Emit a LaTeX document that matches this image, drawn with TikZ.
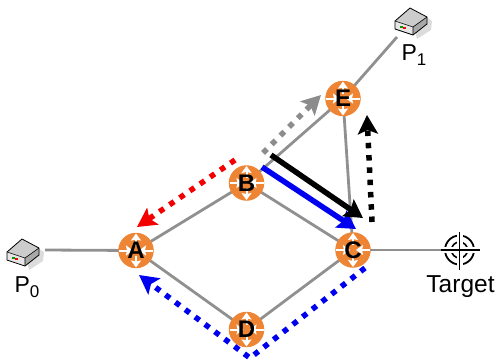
\documentclass[tikz,border=0pt]{standalone}
\usepackage{fontspec}
\setmainfont{Liberation Sans}
\usetikzlibrary{arrows.meta,backgrounds}
\definecolor{routerorange}{HTML}{EE8535}
\definecolor{linkgrey}{HTML}{909090}
\definecolor{flowgrey}{HTML}{8C8C8C}
\definecolor{flowblue}{HTML}{0000F0}
\definecolor{flowred}{HTML}{F50000}
\definecolor{boxtop}{HTML}{CCCCCC}
\definecolor{boxleft}{HTML}{E6E6E6}
\definecolor{boxright}{HTML}{A8A8A8}
\definecolor{boxshadow}{HTML}{DCDCDC}
\newcommand{\sublabel}[2]{#1\raisebox{-5pt}{\fontsize{17}{17}\selectfont #2}}
\newcommand{\hostbox}[1]{%
 \begin{scope}[shift={(#1)}]
  \fill[boxshadow] (3,-2) -- (14,-7) -- (22,-2) -- (21,7) -- (7,16) -- cycle;
  \fill[boxleft] (-15,-2) -- (3,4) -- (3,12) -- (-15,6) -- cycle;
  \fill[boxright] (3,4) -- (17,-6) -- (17,1) -- (3,12) -- cycle;
  \fill[boxtop] (-15,-2) -- (0,-15) -- (17,-6) -- (3,4) -- cycle;
  \draw[line width=.8pt,line join=round] (-15,-2) -- (0,-15) -- (17,-6) -- (17,1) -- (3,12) -- (-15,6) -- cycle;
  \draw[line width=.6pt] (-15,-2) -- (3,4) -- (17,-6) (3,4) -- (3,12);
  \fill[green!60!black] (-10,3) rectangle (-7,5);
  \fill[red] (-7,4) rectangle (-4,6);
 \end{scope}}
\tikzset{
 x=1pt,y=-1pt,
 router/.style={circle,fill=routerorange,minimum size=35.5pt,inner sep=0pt,
   font=\fontsize{24}{24}\selectfont\bfseries,
   path picture={
     \draw[routerarrow] ([xshift=-17pt]path picture bounding box.center) -- ([xshift=-3pt]path picture bounding box.center);
     \draw[routerarrow] ([xshift=17pt]path picture bounding box.center) -- ([xshift=3pt]path picture bounding box.center);
     \draw[routerarrow] ([yshift=5pt]path picture bounding box.center) -- ([yshift=17pt]path picture bounding box.center);
     \draw[routerarrow] ([yshift=-5pt]path picture bounding box.center) -- ([yshift=-17pt]path picture bounding box.center);
   }},
 routerarrow/.style={white,line width=2pt,-{Stealth[length=7pt,width=10pt,inset=1pt]}},
 link/.style={draw=linkgrey,line width=2.8pt},
 caption/.style={inner sep=0pt,anchor=base,font=\fontsize{23}{23}\selectfont},
 solidflow/.style={line width=5.5pt,-{Stealth[length=18pt,width=20pt,inset=3pt]}},
 dotflow/.style={line width=5.5pt,dash pattern=on 5.5pt off 6.8pt,-{Stealth[length=19pt,width=20pt,inset=4pt]}}
}
\begin{document}
\begin{tikzpicture}
\useasboundingbox (0,0) rectangle (497,362);
\coordinate (P0) at (22,254);
\coordinate (P1) at (410,23);
\coordinate (T) at (459.5,250);
\coordinate (P0end) at (45,250);
\coordinate (P1end) at (397,37);
\coordinate (Tend) at (445,250);
\coordinate (Tw) at (441,250);
\coordinate (Te) at (480,250);
\coordinate (Tn) at (459.5,232);
\coordinate (Ts) at (459.5,270);
\hostbox{P0}
\hostbox{P1}
\node[router] (A) at (136,250.5) {A};
\node[router] (B) at (246.5,183) {B};
\node[router] (C) at (353,250) {C};
\node[router] (D) at (246.5,329.5) {D};
\node[router] (E) at (343,98.5) {E};
\begin{pgfonlayer}{background}
\draw[link] (P0end) -- (A.center);
\draw[link] (A.center) -- (B.center);
\draw[link] (A.center) -- (D.center);
\draw[link] (B.center) -- (C.center);
\draw[link] (D.center) -- (C.center);
\draw[link] (B.center) -- (E.center);
\draw[link] (E.center) -- (C.center);
\draw[link] (E.center) -- (P1end);
\draw[link] (C.center) -- (Tend);
\end{pgfonlayer}
% target
\draw[line width=1.8pt] (T) circle (14.5pt);
\draw[line width=1.6pt] (T) circle (8pt);
\draw[white,line width=6pt] (Tw) -- (Te) (Tn) -- (Ts);
\draw[line width=1.8pt] (Tw) -- (Te) (Tn) -- (Ts);
% labels
\node[caption] (lp0) at (27,292) {\sublabel{P}{0}};
\node[caption] (lp1) at (414,60) {\sublabel{P}{1}};
\node[caption,font=\fontsize{24.5}{24.5}\selectfont] (lt) at (460.5,292) {Target};
% flows
\coordinate (r1) at (235,160); \coordinate (r2) at (137,227);
\coordinate (g1) at (263,153); \coordinate (g2) at (321,95);
\coordinate (k1) at (271,155); \coordinate (k2) at (363,218);
\coordinate (b1) at (262,167); \coordinate (b2) at (356,229);
\coordinate (kd1) at (372,222); \coordinate (kd2) at (367,115);
\coordinate (bd1) at (365,268); \coordinate (bd2) at (250,358); \coordinate (bd3) at (139,275);
\draw[flowblue,solidflow] (b1) -- (b2);
\draw[black,solidflow] (k1) -- (k2);
\draw[flowred,dotflow] (r1) -- (r2);
\draw[flowgrey,dotflow] (g1) -- (g2);
\draw[black,dotflow] (kd1) -- (kd2);
\draw[flowblue,dotflow] (bd1) -- (bd2) -- (bd3);
\end{tikzpicture}
\end{document}
